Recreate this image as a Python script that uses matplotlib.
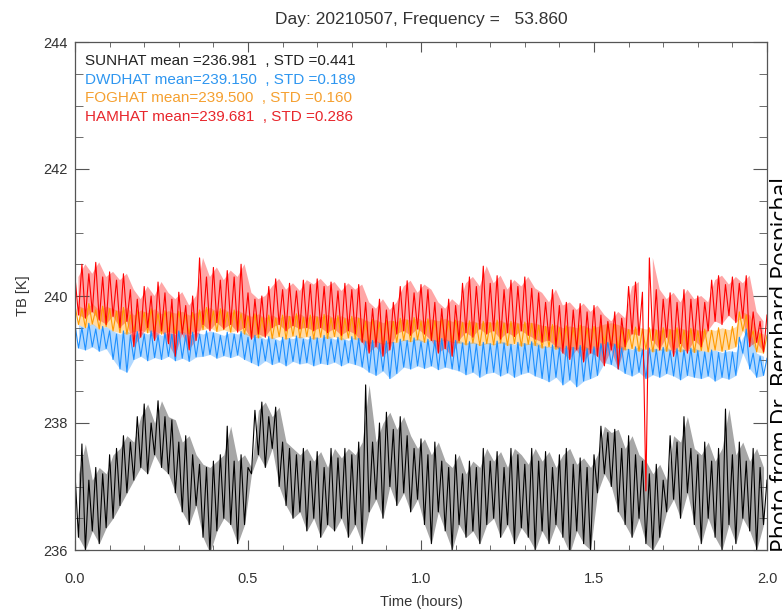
#!/usr/bin/env python3
"""Brightness temperature of four hatprofilers, 2021-05-07, 53.860 GHz."""
import matplotlib

matplotlib.use("Agg")
import matplotlib.pyplot as plt
import numpy as np
from matplotlib.ticker import MultipleLocator

plt.rcParams["font.family"] = ["Liberation Sans", "DejaVu Sans"]

# peaks (read at 0.00, 0.02, ... 2.00 h) and troughs (0.01, 0.03, ... 1.99 h)
sun_hi = [237.2, 237.67, 237.1, 237.3, 237.2, 237.5, 237.6, 237.8, 237.7, 238.1,
          238.3, 238.0, 238.35, 238.1, 238.05, 237.7, 237.8, 237.5, 237.35, 237.3,
          237.4, 237.5, 237.95, 237.4, 237.5, 237.3, 238.2, 238.33, 238.1, 238.25,
          237.7, 237.6, 237.5, 237.6, 237.4, 237.55, 237.3, 237.6, 237.45, 237.6,
          237.5, 237.7, 238.6, 237.7, 238.0, 238.17, 237.9, 238.1, 237.8, 237.6,
          237.75, 237.5, 237.7, 237.4, 237.3, 237.5, 237.2, 237.4, 237.3, 237.6,
          237.4, 237.55, 237.3, 237.6, 237.5, 237.35, 237.6, 237.4, 237.55, 237.3,
          237.5, 237.6, 237.35, 237.45, 237.3, 237.5, 237.95, 237.85, 237.9, 237.6,
          237.8, 237.5, 237.4, 237.2, 237.35, 237.1, 237.8, 237.7, 238.1, 237.6,
          237.5, 237.7, 237.4, 237.6, 238.22, 237.5, 237.7, 237.4, 237.6, 237.3,
          237.1]
sun_lo = [236.2, 236.0, 236.3, 236.1, 236.35, 236.5, 236.7, 236.9, 237.1, 237.3,
          237.2, 237.5, 237.3, 237.2, 236.9, 236.6, 236.4, 236.7, 236.2, 235.95,
          236.3, 236.5, 236.4, 236.1, 236.4, 237.2, 237.5, 237.3, 237.6, 237.0,
          236.7, 236.5, 236.6, 236.3, 236.5, 236.2, 236.4, 236.3, 236.5, 236.2,
          236.4, 236.1, 236.6, 236.8, 236.5, 237.0, 236.7, 236.9, 236.6, 236.8,
          236.4, 236.1, 236.6, 236.3, 236.0, 236.4, 236.2, 236.3, 236.1, 236.4,
          236.5, 236.2, 236.4, 236.1, 236.35, 236.2, 236.0, 236.3, 236.1, 236.4,
          236.2, 235.95, 236.3, 236.1, 236.0, 236.9, 237.2, 237.0, 236.6, 236.4,
          236.2, 236.5, 236.1, 236.0, 236.2, 236.6, 236.8, 236.5, 236.9, 236.4,
          236.1, 236.5, 236.2, 236.0, 236.4, 236.1, 236.5, 236.3, 236.0, 236.4]

dwd_hi = [239.55, 239.5, 239.57, 239.48, 239.52, 239.45, 239.4, 239.45, 239.38, 239.44,
          239.4, 239.45, 239.38, 239.42, 239.4, 239.45, 239.38, 239.43, 239.4, 239.45,
          239.42, 239.38, 239.43, 239.4, 239.44, 239.35, 239.38, 239.32, 239.36, 239.3,
          239.35, 239.33, 239.37, 239.32, 239.36, 239.34, 239.38, 239.32, 239.35, 239.3,
          239.36, 239.33, 239.28, 239.3, 239.25, 239.29, 239.27, 239.32, 239.3, 239.34,
          239.28, 239.32, 239.3, 239.33, 239.28, 239.3, 239.26, 239.28, 239.24, 239.27,
          239.25, 239.29, 239.26, 239.24, 239.27, 239.25, 239.28, 239.22, 239.2, 239.23,
          239.18, 239.21, 239.19, 239.22, 239.17, 239.2, 239.25, 239.27, 239.24, 239.18,
          239.16, 239.2, 239.15, 239.18, 239.16, 239.19, 239.14, 239.17, 239.15, 239.18,
          239.14, 239.12, 239.15, 239.11, 239.14, 239.12, 239.35, 239.48, 239.1, 239.05,
          239.02]
dwd_lo = [239.18, 239.15, 239.2, 239.13, 239.17, 239.0, 238.85, 238.8, 239.0, 239.05,
          238.98, 239.03, 239.0, 239.05, 238.98, 239.02, 238.97, 239.04, 239.05, 239.08,
          239.02, 239.06, 239.03, 239.07, 239.0, 238.95, 238.9, 238.98, 238.92, 238.96,
          238.9, 238.97, 238.93, 238.95, 238.9, 238.94, 238.92, 238.96, 238.9, 238.95,
          238.92, 238.88, 238.8, 238.75, 238.82, 238.7, 238.78, 238.88, 238.85, 238.9,
          238.86, 238.9, 238.84, 238.88, 238.85, 238.82, 238.76, 238.8, 238.72, 238.78,
          238.8, 238.74, 238.79, 238.72, 238.77, 238.8, 238.74, 238.7, 238.65, 238.72,
          238.6, 238.68, 238.57, 238.66, 238.7, 238.75, 238.95, 238.92, 238.85, 238.78,
          238.74, 238.8, 238.7, 238.76, 238.72, 238.78, 238.74, 238.68, 238.75, 238.72,
          238.7, 238.74, 238.66, 238.72, 238.69, 238.75, 239.1, 238.85, 238.72, 238.75]

fog_hi = [239.85, 239.8, 239.88, 239.78, 239.84, 239.8, 239.76, 239.82, 239.7, 239.78,
          239.74, 239.8, 239.72, 239.77, 239.73, 239.76, 239.7, 239.74, 239.78, 239.82,
          239.76, 239.8, 239.74, 239.78, 239.72, 239.68, 239.72, 239.66, 239.7, 239.65,
          239.7, 239.68, 239.72, 239.66, 239.7, 239.67, 239.71, 239.65, 239.69, 239.64,
          239.68, 239.65, 239.6, 239.63, 239.58, 239.62, 239.6, 239.65, 239.62, 239.66,
          239.6, 239.64, 239.61, 239.65, 239.6, 239.62, 239.58, 239.61, 239.57, 239.6,
          239.58, 239.62, 239.57, 239.6, 239.56, 239.59, 239.57, 239.54, 239.52, 239.55,
          239.5, 239.53, 239.5, 239.54, 239.49, 239.52, 239.56, 239.58, 239.55, 239.5,
          239.47, 239.51, 239.48, 239.5, 239.46, 239.5, 239.47, 239.5, 239.46, 239.49,
          239.45, 239.48, 239.46, 239.5, 239.47, 239.52, 239.75, 239.7, 239.45, 239.4,
          239.38]
fog_lo = [239.55, 239.5, 239.56, 239.48, 239.52, 239.45, 239.42, 239.4, 239.44, 239.46,
          239.42, 239.45, 239.4, 239.44, 239.41, 239.43, 239.4, 239.45, 239.47, 239.5,
          239.44, 239.47, 239.43, 239.46, 239.4, 239.36, 239.34, 239.38, 239.33, 239.36,
          239.32, 239.37, 239.34, 239.36, 239.32, 239.35, 239.33, 239.36, 239.31, 239.34,
          239.32, 239.28, 239.25, 239.28, 239.24, 239.26, 239.27, 239.3, 239.28, 239.31,
          239.27, 239.3, 239.28, 239.31, 239.27, 239.26, 239.23, 239.26, 239.22, 239.25,
          239.23, 239.26, 239.22, 239.25, 239.21, 239.24, 239.22, 239.18, 239.2, 239.16,
          239.19, 239.15, 239.18, 239.14, 239.17, 239.2, 239.25, 239.22, 239.18, 239.15,
          239.17, 239.13, 239.16, 239.12, 239.15, 239.13, 239.16, 239.12, 239.15, 239.11,
          239.14, 239.12, 239.15, 239.13, 239.16, 239.2, 239.45, 239.3, 239.12, 239.1]

ham_hi = [240.3, 240.5, 240.35, 240.53, 240.3, 240.38, 240.25, 240.35, 240.1, 239.95,
          240.15, 240.0, 240.22, 240.05, 239.95, 240.06, 239.85, 240.0, 240.6, 240.3,
          240.45, 240.25, 240.4, 240.3, 240.5, 240.05, 239.95, 240.0, 240.15, 240.27,
          240.1, 240.2, 240.08, 240.25, 240.18, 240.27, 240.15, 240.22, 240.08, 240.2,
          240.1, 240.18, 239.9, 239.8, 239.95, 239.78, 239.9, 240.15, 240.24, 240.05,
          240.18, 240.1, 239.9, 239.8, 239.95, 239.85, 240.2, 240.3, 240.15, 240.47,
          240.2, 240.32, 240.1, 240.25, 240.15, 240.3, 240.12, 240.05, 239.9, 240.1,
          239.85, 239.9, 239.78, 239.88, 239.75, 239.85, 239.7, 239.6, 239.75, 239.65,
          240.15, 240.22, 240.06, 240.6, 240.1, 239.95, 240.05, 239.9, 240.1, 239.95,
          240.0, 239.9, 240.25, 240.32, 240.18, 240.3, 240.2, 240.32, 239.75, 239.6,
          239.7]
ham_lo = [239.7, 239.65, 239.75, 239.62, 239.55, 239.68, 239.5, 239.6, 239.2, 239.35,
          239.5, 239.3, 239.45, 239.25, 239.05, 239.4, 239.15, 239.3, 239.55, 239.45,
          239.58, 239.48, 239.55, 239.43, 239.5, 239.32, 239.4, 239.35, 239.5, 239.55,
          239.45, 239.53, 239.48, 239.5, 239.45, 239.5, 239.42, 239.48, 239.38, 239.45,
          239.4, 239.27, 239.1, 239.2, 239.05, 239.15, 239.4, 239.45, 239.38, 239.48,
          239.4, 239.3, 239.1, 239.17, 239.05, 239.3, 239.42, 239.35, 239.48, 239.4,
          239.45, 239.32, 239.42, 239.36, 239.45, 239.38, 239.32, 239.27, 239.3, 239.2,
          239.1, 239.0, 239.15, 238.96, 239.1, 239.05, 238.9, 239.15, 238.85, 239.2,
          239.4, 239.38, 236.93, 239.3, 239.15, 239.35, 239.05, 239.25, 239.1, 239.3,
          239.2, 239.45, 239.6, 239.55, 239.69, 239.58, 239.65, 239.2, 239.27, 239.12]

labels = ["SUNHAT mean =236.981  , STD =0.441",
          "DWDHAT mean=239.150  , STD =0.189",
          "FOGHAT mean=239.500  , STD =0.160",
          "HAMHAT mean=239.681  , STD =0.286"]
colors = ["black", "#1E90FF", "#FF9A00", "#FF0000"]
text_colors = ["#222222", "#2E96F0", "#F5A030", "#E8262C"]


def zigzag(hi, lo):
    """Merge peaks and troughs into one time series."""
    t_hi = np.arange(len(hi)) * 0.02
    t_lo = np.arange(len(lo)) * 0.02 + 0.01
    t = np.empty(len(hi) + len(lo))
    v = np.empty(len(hi) + len(lo))
    t[0::2], t[1::2] = t_hi, t_lo
    v[0::2], v[1::2] = hi, lo
    return t, v


series = [(sun_hi, sun_lo), (dwd_hi, dwd_lo), (fog_hi, fog_lo), (ham_hi, ham_lo)]

fig = plt.figure(figsize=(7.82, 6.10), dpi=100)
ax = fig.add_axes([75 / 782, 1 - 550 / 610, 692 / 782, 508 / 610])

for (hi, lo), c in zip(series, colors):
    t, v = zigzag(hi, lo)
    # shade the dense noise core between each peak and the next trough,
    # leaving out the single red drop-out
    lo_arr = np.array(lo)
    keep = np.abs(np.array(hi[:-1]) - lo_arr) < 2.5
    ax.fill_between(t[1::2], hi[:-1], lo_arr, where=keep, color=c,
                    alpha=0.35, lw=0)
    ax.plot(t, v, color=c, lw=0.8)

ax.set_xlim(0, 2.0)
ax.set_ylim(236, 244)
ax.xaxis.set_major_locator(MultipleLocator(0.5))
ax.xaxis.set_minor_locator(MultipleLocator(0.1))
ax.yaxis.set_major_locator(MultipleLocator(2))
ax.yaxis.set_minor_locator(MultipleLocator(0.5))
ax.set_xticks([0, 0.5, 1.0, 1.5, 2.0], ["0.0", "0.5", "1.0", "1.5", "2.0"])
ax.tick_params(which="both", direction="in", top=True, right=True,
               color="#555555", labelcolor="#333333", labelsize=10.5)
ax.tick_params(axis="x", which="major", length=7, pad=16)
ax.tick_params(axis="x", which="minor", length=3.5)
ax.tick_params(axis="y", which="major", length=10, pad=5)
ax.tick_params(axis="y", which="minor", length=5.5)
for s in ax.spines.values():
    s.set_color("#555555")
    s.set_linewidth(0.9)

ax.set_xlabel("Time (hours)", fontsize=10.5, color="#333333", labelpad=6)
ax.set_ylabel("TB [K]", fontsize=10.5, color="#333333", labelpad=10)
ax.set_title("Day: 20210507, Frequency =   53.860", fontsize=12.5,
             color="#333333", pad=13)

for i, (lab, c) in enumerate(zip(labels, text_colors)):
    ax.text(85 / 782, (610 - 61 - i * 18.6) / 610, lab, color=c, fontsize=11,
            va="center", ha="left", transform=fig.transFigure)

# watermark on the right edge, cut off by the border as in the photo
fig.text(770 / 782, (610 - 552) / 610, "Photo from Dr. Bernhard Pospichal",
         rotation=90, ha="left", va="bottom", fontsize=16.5,
         family=["Open Sans", "DejaVu Sans"], color="black")

fig.savefig("out.png", dpi=100)
